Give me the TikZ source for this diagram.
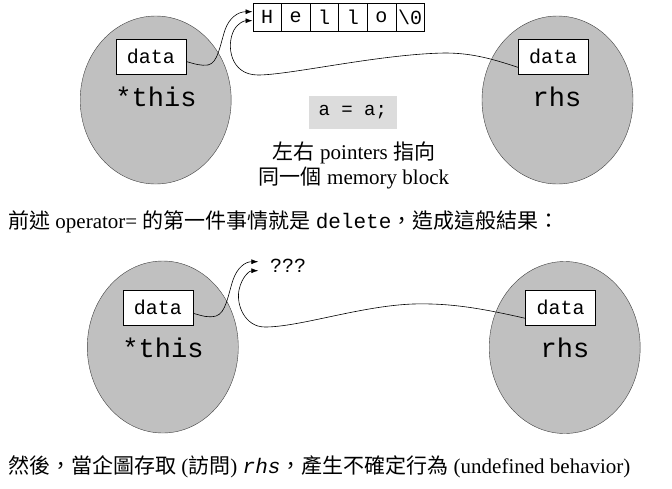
\documentclass[tikz,border=0pt]{standalone}
\usepackage{fontspec}
\setmainfont{Liberation Serif}
\setmonofont{Liberation Mono}
\newfontfamily\cjk{Noto Sans CJK TC}
\usetikzlibrary{shapes.geometric, arrows.meta}

\tikzset{
  objshape/.style={ellipse, draw=black!75, fill={rgb,255:red,192;green,192;blue,192}, minimum width=151pt, minimum height=168pt, inner sep=0pt},
  databox/.style={draw, fill=white, minimum width=70pt, minimum height=35pt, inner sep=0pt, font=\ttfamily\fontsize{20}{20}\selectfont},
  objname/.style={inner sep=0pt, font=\ttfamily\fontsize{27}{27}\selectfont},
  charcell/.style={draw, fill=white, minimum width=28.6pt, minimum height=28pt, inner sep=0pt, font=\ttfamily\fontsize{20}{20}\selectfont},
  ptr/.style={-{Latex[length=7pt,width=5pt]}, line width=0.6pt},
  note/.style={inner sep=0pt, font=\fontsize{21}{25}\selectfont}
}

\begin{document}
\begin{tikzpicture}[x=1pt, y=-1pt]
\useasboundingbox (0,0) rectangle (672,488);

% upper half: a = a;
\node (thisA) [objshape] at (155.7,100) {};
\node (rhsA)  [objshape] at (557.5,100) {};
\node (dataThisA) [databox] at (151,56.5) {data};
\node (dataRhsA)  [databox] at (553,56.5) {data};
\node (nameThisA) [objname] at (156,97) {*this};
\node (nameRhsA)  [objname] at (557,97) {rhs};

\foreach \ch [count=\i] in {H,e,l,l,o,\textbackslash 0}
  \node (hello\i) [charcell] at (252.7+28.6*\i-14.3,17.3) {\ch};

\node (selfasg) [fill={rgb,255:red,220;green,220;blue,220}, minimum width=88pt, minimum height=33pt, inner sep=0pt, font=\ttfamily\fontsize{19}{19}\selectfont] at (352.8,112.3) {a = a;};
\node (samenote) [note, align=center] at (354,165.5) {{\cjk 左右} pointers {\cjk 指向}\\{\cjk 同一個} memory block};

\draw [ptr] ([yshift=-5pt]dataThisA.east) .. controls (195,64) and (201,66) .. (208,65) .. controls (218,63) and (220,45) .. (225,30) .. controls (229,18) and (238,11.7) .. ([yshift=5.6pt]hello1.west);
\draw [ptr] ([yshift=-10.8pt]dataRhsA.west) .. controls (490,58) and (470,53) .. (445,53) .. controls (380,54) and (290,75) .. (258,75) .. controls (230,75) and (226,45) .. (234,30) .. controls (238,23) and (244,20.7) .. ([yshift=-3.4pt]hello1.west);

\node (deltext) [note, anchor=west] at (8,222) {{\cjk 前述} operator= {\cjk 的第一件事情就是} \texttt{delete}{\cjk ，造成這般結果：}};

% lower half: after delete
\node (thisB) [objshape, minimum height=172pt] at (162.8,347) {};
\node (rhsB)  [objshape, minimum height=172pt] at (564.7,347.5) {};
\node (dataThisB) [databox] at (158,307.5) {data};
\node (dataRhsB)  [databox] at (560.5,307.5) {data};
\node (nameThisB) [objname] at (163,348) {*this};
\node (nameRhsB)  [objname] at (565,348) {rhs};

\coordinate (lost) at (258.3,266);
\node (unknown) [anchor=west, inner sep=0pt, font=\ttfamily\fontsize{20}{20}\selectfont] at (270,266) {???};

\draw [ptr] ([yshift=-5.8pt]dataThisB.east) .. controls (203,316) and (208,318) .. (216,316) .. controls (226,313) and (228,295) .. (233,280) .. controls (237,268) and (245,261.7) .. ([yshift=4.3pt]lost);
\draw [ptr] ([yshift=-10.8pt]dataRhsB.west) .. controls (480,308) and (450,303) .. (413,304) .. controls (360,306) and (300,327) .. (265,327) .. controls (245,327) and (236,305) .. (239,290) .. controls (242,276) and (250,270.7) .. ([yshift=-4.7pt]lost);

\node (ubtext) [note, anchor=west] at (8,467) {{\cjk 然後，當企圖存取} ({\cjk 訪問}) \texttt{\itshape rhs}{\cjk ，產生不確定行為} (undefined behavior)};
\end{tikzpicture}
\end{document}
